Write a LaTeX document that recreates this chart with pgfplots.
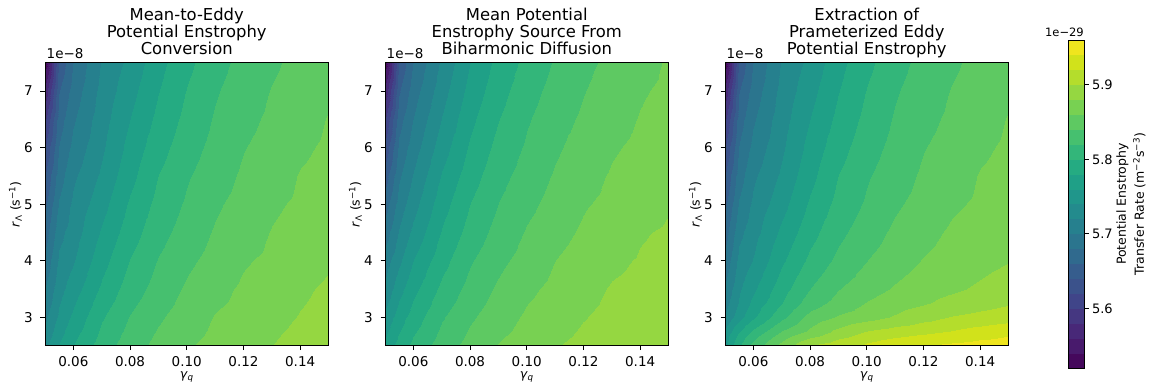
\documentclass[border=0pt]{standalone}
\usepackage{fontspec}
\setmainfont{DejaVu Sans}
\usepackage{pgfplots}
\pgfplotsset{compat=1.18}
\newcommand\tickfont{\fontsize{13.5bp}{16bp}\selectfont}
\newcommand\titlefont{\fontsize{16.4bp}{17.4bp}\selectfont}
\newcommand\labfont{\fontsize{12.5bp}{15bp}\selectfont}
\newcommand\cbtickfont{\fontsize{13bp}{15bp}\selectfont}
\newcommand\offfont{\fontsize{11.5bp}{14bp}\selectfont}
\newcommand\cbfont{\fontsize{12.5bp}{18bp}\selectfont}
\pgfplotsset{
 colormap={vir22}{rgb255=(69,8,92) rgb255=(72,26,108) rgb255=(72,40,120) rgb255=(69,55,129) rgb255=(64,69,137) rgb255=(59,82,139) rgb255=(54,93,141) rgb255=(48,106,142) rgb255=(43,117,142) rgb255=(38,128,142) rgb255=(35,139,141) rgb255=(32,150,139) rgb255=(31,160,135) rgb255=(37,171,130) rgb255=(51,182,122) rgb255=(70,192,111) rgb255=(94,201,98) rgb255=(120,209,82) rgb255=(149,215,65) rgb255=(180,221,44) rgb255=(209,226,27) rgb255=(239,229,30)},
 panel/.style={
  scale only axis, width=283.5bp, height=283bp, anchor=south west,
  clip mode=individual,
  xmin=0.05, xmax=0.15, ymin=2.5, ymax=7.5,
  xtick={0.06,0.08,0.10,0.12,0.14}, ytick={3,4,5,6,7},
  scaled ticks=false,
  tick pos=left, tick align=outside, major tick length=4.5bp,
  tick style={black, line width=0.8bp},
  axis line style={black, line width=0.8bp},
  /pgf/number format/assume math mode=true,
  xticklabel style={font=\tickfont, inner sep=1bp, yshift=-5.5bp, /pgf/number format/fixed, /pgf/number format/fixed zerofill, /pgf/number format/precision=2},
  yticklabel style={font=\tickfont, inner sep=1bp, xshift=-6.5bp},
  xlabel={\textit{γ}\textsubscript{\textit{q}}},
  ylabel={\textit{r}\textsubscript{Λ} (s\textsuperscript{−1})},
  every axis x label/.style={at={(axis description cs:0.5,0)}, anchor=center, yshift=-31.5bp, inner sep=1bp, font=\labfont},
  every axis y label/.style={at={(axis description cs:0,0.5)}, anchor=center, rotate=90, yshift=29.5bp, inner sep=1bp, font=\labfont},
  title style={at={(0.5,1)}, anchor=south, yshift=-2.3bp, inner sep=0pt, align=center, font=\titlefont},
  colormap name=vir22, colormap access=piecewise constant,
  point meta min=5.52, point meta max=5.96,
  axis on top,
 },
 field/.style={surf, shader=interp, mesh/cols=12, point meta=explicit},
}
\begin{document}
\begin{tikzpicture}
\path[use as bounding box] (0,0) rectangle (1154bp,385bp);

% ---------- Panel 1 ----------
\begin{axis}[panel, at={(45bp,39.3bp)}, title={Mean-to-Eddy\\Potential Enstrophy\\Conversion\rule[-4bp]{0pt}{0pt}}]
\addplot[field] coordinates {
(0.05,2.5)[5.735] (0.055,2.5)[5.761] (0.06,2.5)[5.780] (0.07,2.5)[5.810] (0.08,2.5)[5.831] (0.09,2.5)[5.846] (0.10,2.5)[5.858] (0.11,2.5)[5.866] (0.12,2.5)[5.873] (0.13,2.5)[5.880] (0.14,2.5)[5.887] (0.15,2.5)[5.894]
(0.05,3.0)[5.715] (0.055,3.0)[5.744] (0.06,3.0)[5.764] (0.07,3.0)[5.798] (0.08,3.0)[5.821] (0.09,3.0)[5.837] (0.10,3.0)[5.850] (0.11,3.0)[5.861] (0.12,3.0)[5.867] (0.13,3.0)[5.874] (0.14,3.0)[5.881] (0.15,3.0)[5.887]
(0.05,3.5)[5.700] (0.055,3.5)[5.733] (0.06,3.5)[5.750] (0.07,3.5)[5.784] (0.08,3.5)[5.810] (0.09,3.5)[5.828] (0.10,3.5)[5.843] (0.11,3.5)[5.854] (0.12,3.5)[5.863] (0.13,3.5)[5.869] (0.14,3.5)[5.8765] (0.15,3.5)[5.8835]
(0.05,4.0)[5.685] (0.055,4.0)[5.724] (0.06,4.0)[5.738] (0.07,4.0)[5.773] (0.08,4.0)[5.801] (0.09,4.0)[5.821] (0.10,4.0)[5.836] (0.11,4.0)[5.847] (0.12,4.0)[5.858] (0.13,4.0)[5.864] (0.14,4.0)[5.870] (0.15,4.0)[5.8775]
(0.05,4.5)[5.670] (0.055,4.5)[5.714] (0.06,4.5)[5.730] (0.07,4.5)[5.763] (0.08,4.5)[5.791] (0.09,4.5)[5.813] (0.10,4.5)[5.829] (0.11,4.5)[5.842] (0.12,4.5)[5.852] (0.13,4.5)[5.861] (0.14,4.5)[5.867] (0.15,4.5)[5.872]
(0.05,5.0)[5.655] (0.055,5.0)[5.702] (0.06,5.0)[5.724] (0.07,5.0)[5.753] (0.08,5.0)[5.783] (0.09,5.0)[5.806] (0.10,5.0)[5.823] (0.11,5.0)[5.837] (0.12,5.0)[5.847] (0.13,5.0)[5.857] (0.14,5.0)[5.863] (0.15,5.0)[5.869]
(0.05,5.5)[5.640] (0.055,5.5)[5.691] (0.06,5.5)[5.716] (0.07,5.5)[5.744] (0.08,5.5)[5.774] (0.09,5.5)[5.800] (0.10,5.5)[5.818] (0.11,5.5)[5.831] (0.12,5.5)[5.843] (0.13,5.5)[5.852] (0.14,5.5)[5.861] (0.15,5.5)[5.866]
(0.05,6.0)[5.620] (0.055,6.0)[5.681] (0.06,6.0)[5.706] (0.07,6.0)[5.737] (0.08,6.0)[5.767] (0.09,6.0)[5.792] (0.10,6.0)[5.812] (0.11,6.0)[5.826] (0.12,6.0)[5.839] (0.13,6.0)[5.848] (0.14,6.0)[5.857] (0.15,6.0)[5.863]
(0.05,6.5)[5.595] (0.055,6.5)[5.670] (0.06,6.5)[5.697] (0.07,6.5)[5.732] (0.08,6.5)[5.760] (0.09,6.5)[5.785] (0.10,6.5)[5.806] (0.11,6.5)[5.822] (0.12,6.5)[5.834] (0.13,6.5)[5.844] (0.14,6.5)[5.853] (0.15,6.5)[5.861]
(0.05,7.0)[5.565] (0.055,7.0)[5.659] (0.06,7.0)[5.688] (0.07,7.0)[5.727] (0.08,7.0)[5.753] (0.09,7.0)[5.779] (0.10,7.0)[5.801] (0.11,7.0)[5.818] (0.12,7.0)[5.830] (0.13,7.0)[5.841] (0.14,7.0)[5.849] (0.15,7.0)[5.858]
(0.05,7.5)[5.525] (0.055,7.5)[5.644] (0.06,7.5)[5.680] (0.07,7.5)[5.722] (0.08,7.5)[5.746] (0.09,7.5)[5.773] (0.10,7.5)[5.795] (0.11,7.5)[5.813] (0.12,7.5)[5.826] (0.13,7.5)[5.837] (0.14,7.5)[5.846] (0.15,7.5)[5.854]
};
\node[anchor=base west, font=\tickfont, inner sep=0pt, xshift=1.5bp, yshift=4.4bp] at (rel axis cs:0,1) {1e−8};
\end{axis}

% ---------- Panel 2 ----------
\begin{axis}[panel, at={(385bp,39.3bp)}, title={Mean Potential\\Enstrophy Source From\\Biharmonic Diffusion\rule[-4bp]{0pt}{0pt}}]
\addplot[field] coordinates {
(0.05,2.5)[5.765] (0.055,2.5)[5.788] (0.06,2.5)[5.805] (0.07,2.5)[5.830] (0.08,2.5)[5.847] (0.09,2.5)[5.861] (0.10,2.5)[5.870] (0.11,2.5)[5.879] (0.12,2.5)[5.885] (0.13,2.5)[5.889] (0.14,2.5)[5.893] (0.15,2.5)[5.896]
(0.05,3.0)[5.745] (0.055,3.0)[5.770] (0.06,3.0)[5.789] (0.07,3.0)[5.818] (0.08,3.0)[5.837] (0.09,3.0)[5.851] (0.10,3.0)[5.863] (0.11,3.0)[5.871] (0.12,3.0)[5.879] (0.13,3.0)[5.885] (0.14,3.0)[5.889] (0.15,3.0)[5.892]
(0.05,3.5)[5.725] (0.055,3.5)[5.753] (0.06,3.5)[5.774] (0.07,3.5)[5.805] (0.08,3.5)[5.827] (0.09,3.5)[5.843] (0.10,3.5)[5.856] (0.11,3.5)[5.865] (0.12,3.5)[5.874] (0.13,3.5)[5.8815] (0.14,3.5)[5.885] (0.15,3.5)[5.888]
(0.05,4.0)[5.710] (0.055,4.0)[5.736] (0.06,4.0)[5.760] (0.07,4.0)[5.793] (0.08,4.0)[5.818] (0.09,4.0)[5.835] (0.10,4.0)[5.848] (0.11,4.0)[5.860] (0.12,4.0)[5.869] (0.13,4.0)[5.8765] (0.14,4.0)[5.8815] (0.15,4.0)[5.885]
(0.05,4.5)[5.690] (0.055,4.5)[5.722] (0.06,4.5)[5.745] (0.07,4.5)[5.782] (0.08,4.5)[5.808] (0.09,4.5)[5.827] (0.10,4.5)[5.842] (0.11,4.5)[5.853] (0.12,4.5)[5.863] (0.13,4.5)[5.871] (0.14,4.5)[5.8785] (0.15,4.5)[5.8825]
(0.05,5.0)[5.670] (0.055,5.0)[5.709] (0.06,5.0)[5.732] (0.07,5.0)[5.772] (0.08,5.0)[5.800] (0.09,5.0)[5.820] (0.10,5.0)[5.835] (0.11,5.0)[5.847] (0.12,5.0)[5.858] (0.13,5.0)[5.865] (0.14,5.0)[5.872] (0.15,5.0)[5.8785]
(0.05,5.5)[5.650] (0.055,5.5)[5.697] (0.06,5.5)[5.721] (0.07,5.5)[5.762] (0.08,5.5)[5.791] (0.09,5.5)[5.813] (0.10,5.5)[5.829] (0.11,5.5)[5.842] (0.12,5.5)[5.853] (0.13,5.5)[5.862] (0.14,5.5)[5.868] (0.15,5.5)[5.874]
(0.05,6.0)[5.625] (0.055,6.0)[5.685] (0.06,6.0)[5.710] (0.07,6.0)[5.751] (0.08,6.0)[5.783] (0.09,6.0)[5.806] (0.10,6.0)[5.823] (0.11,6.0)[5.837] (0.12,6.0)[5.848] (0.13,6.0)[5.858] (0.14,6.0)[5.864] (0.15,6.0)[5.870]
(0.05,6.5)[5.598] (0.055,6.5)[5.672] (0.06,6.5)[5.700] (0.07,6.5)[5.741] (0.08,6.5)[5.775] (0.09,6.5)[5.799] (0.10,6.5)[5.818] (0.11,6.5)[5.832] (0.12,6.5)[5.843] (0.13,6.5)[5.853] (0.14,6.5)[5.861] (0.15,6.5)[5.867]
(0.05,7.0)[5.565] (0.055,7.0)[5.658] (0.06,7.0)[5.690] (0.07,7.0)[5.732] (0.08,7.0)[5.767] (0.09,7.0)[5.792] (0.10,7.0)[5.812] (0.11,7.0)[5.827] (0.12,7.0)[5.839] (0.13,7.0)[5.849] (0.14,7.0)[5.858] (0.15,7.0)[5.864]
(0.05,7.5)[5.525] (0.055,7.5)[5.642] (0.06,7.5)[5.680] (0.07,7.5)[5.724] (0.08,7.5)[5.760] (0.09,7.5)[5.786] (0.10,7.5)[5.806] (0.11,7.5)[5.822] (0.12,7.5)[5.835] (0.13,7.5)[5.845] (0.14,7.5)[5.854] (0.15,7.5)[5.862]
};
\node[anchor=base west, font=\tickfont, inner sep=0pt, xshift=1.5bp, yshift=4.4bp] at (rel axis cs:0,1) {1e−8};
\end{axis}

% ---------- Panel 3 ----------
\begin{axis}[panel, at={(725bp,39.3bp)}, title={Extraction of\\Prameterized Eddy\\Potential Enstrophy\rule[-4bp]{0pt}{0pt}}]
\addplot[field] coordinates {
(0.05,2.5)[5.755] (0.055,2.5)[5.798] (0.06,2.5)[5.827] (0.07,2.5)[5.869] (0.08,2.5)[5.901] (0.09,2.5)[5.914] (0.10,2.5)[5.925] (0.11,2.5)[5.935] (0.12,2.5)[5.941] (0.13,2.5)[5.945] (0.14,2.5)[5.949] (0.15,2.5)[5.952]
(0.05,2.75)[5.745] (0.055,2.75)[5.780] (0.06,2.75)[5.805] (0.07,2.75)[5.842] (0.08,2.75)[5.865] (0.09,2.75)[5.886] (0.10,2.75)[5.902] (0.11,2.75)[5.910] (0.12,2.75)[5.916] (0.13,2.75)[5.922] (0.14,2.75)[5.929] (0.15,2.75)[5.935]
(0.05,3.0)[5.722] (0.055,3.0)[5.752] (0.06,3.0)[5.776] (0.07,3.0)[5.815] (0.08,3.0)[5.847] (0.09,3.0)[5.862] (0.10,3.0)[5.872] (0.11,3.0)[5.882] (0.12,3.0)[5.892] (0.13,3.0)[5.901] (0.14,3.0)[5.906] (0.15,3.0)[5.911]
(0.05,3.25)[5.712] (0.055,3.25)[5.742] (0.06,3.25)[5.765] (0.07,3.25)[5.800] (0.08,3.25)[5.830] (0.09,3.25)[5.847] (0.10,3.25)[5.861] (0.11,3.25)[5.871] (0.12,3.25)[5.878] (0.13,3.25)[5.886] (0.14,3.25)[5.892] (0.15,3.25)[5.898]
(0.05,3.5)[5.703] (0.055,3.5)[5.737] (0.06,3.5)[5.756] (0.07,3.5)[5.792] (0.08,3.5)[5.820] (0.09,3.5)[5.839] (0.10,3.5)[5.852] (0.11,3.5)[5.862] (0.12,3.5)[5.871] (0.13,3.5)[5.877] (0.14,3.5)[5.883] (0.15,3.5)[5.889]
(0.05,4.0)[5.686] (0.055,4.0)[5.726] (0.06,4.0)[5.741] (0.07,4.0)[5.777] (0.08,4.0)[5.805] (0.09,4.0)[5.825] (0.10,4.0)[5.840] (0.11,4.0)[5.851] (0.12,4.0)[5.861] (0.13,4.0)[5.868] (0.14,4.0)[5.874] (0.15,4.0)[5.8795]
(0.05,4.5)[5.671] (0.055,4.5)[5.715] (0.06,4.5)[5.732] (0.07,4.5)[5.765] (0.08,4.5)[5.793] (0.09,4.5)[5.815] (0.10,4.5)[5.831] (0.11,4.5)[5.844] (0.12,4.5)[5.854] (0.13,4.5)[5.863] (0.14,4.5)[5.869] (0.15,4.5)[5.875]
(0.05,5.0)[5.655] (0.055,5.0)[5.702] (0.06,5.0)[5.724] (0.07,5.0)[5.753] (0.08,5.0)[5.783] (0.09,5.0)[5.806] (0.10,5.0)[5.823] (0.11,5.0)[5.837] (0.12,5.0)[5.847] (0.13,5.0)[5.857] (0.14,5.0)[5.863] (0.15,5.0)[5.869]
(0.05,5.5)[5.640] (0.055,5.5)[5.691] (0.06,5.5)[5.716] (0.07,5.5)[5.744] (0.08,5.5)[5.774] (0.09,5.5)[5.800] (0.10,5.5)[5.818] (0.11,5.5)[5.831] (0.12,5.5)[5.843] (0.13,5.5)[5.852] (0.14,5.5)[5.861] (0.15,5.5)[5.866]
(0.05,6.0)[5.620] (0.055,6.0)[5.681] (0.06,6.0)[5.706] (0.07,6.0)[5.737] (0.08,6.0)[5.767] (0.09,6.0)[5.792] (0.10,6.0)[5.812] (0.11,6.0)[5.826] (0.12,6.0)[5.839] (0.13,6.0)[5.848] (0.14,6.0)[5.857] (0.15,6.0)[5.863]
(0.05,6.5)[5.595] (0.055,6.5)[5.670] (0.06,6.5)[5.697] (0.07,6.5)[5.732] (0.08,6.5)[5.760] (0.09,6.5)[5.785] (0.10,6.5)[5.806] (0.11,6.5)[5.822] (0.12,6.5)[5.834] (0.13,6.5)[5.844] (0.14,6.5)[5.853] (0.15,6.5)[5.861]
(0.05,7.0)[5.565] (0.055,7.0)[5.659] (0.06,7.0)[5.688] (0.07,7.0)[5.727] (0.08,7.0)[5.753] (0.09,7.0)[5.779] (0.10,7.0)[5.801] (0.11,7.0)[5.818] (0.12,7.0)[5.830] (0.13,7.0)[5.841] (0.14,7.0)[5.849] (0.15,7.0)[5.858]
(0.05,7.5)[5.525] (0.055,7.5)[5.644] (0.06,7.5)[5.680] (0.07,7.5)[5.722] (0.08,7.5)[5.746] (0.09,7.5)[5.773] (0.10,7.5)[5.795] (0.11,7.5)[5.813] (0.12,7.5)[5.826] (0.13,7.5)[5.837] (0.14,7.5)[5.846] (0.15,7.5)[5.854]
};
\node[anchor=base west, font=\tickfont, inner sep=0pt, xshift=1.5bp, yshift=4.4bp] at (rel axis cs:0,1) {1e−8};
\end{axis}

% ---------- Colorbar ----------
\begin{axis}[at={(1068bp,17bp)}, anchor=south west, scale only axis, width=16bp, height=328bp,
 clip mode=individual,
 xmin=0, xmax=1, ymin=5.52, ymax=5.96, xtick=\empty, ytick={5.6,5.7,5.8,5.9},
 ytick pos=right, yticklabel pos=right, tick align=outside, major tick length=4.5bp,
 tick style={black, line width=0.8bp}, axis line style={black, line width=0.8bp},
 scaled ticks=false,
 /pgf/number format/assume math mode=true,
 yticklabel style={font=\cbtickfont, /pgf/number format/fixed, /pgf/number format/fixed zerofill, /pgf/number format/precision=1},
 colormap name=vir22, colormap access=piecewise constant,
 point meta min=5.52, point meta max=5.96, axis on top]
\addplot[surf, shader=interp, mesh/cols=2, point meta=explicit] coordinates {
(0,5.52)[5.52] (1,5.52)[5.52]
(0,5.96)[5.96] (1,5.96)[5.96]
};
\node[anchor=base east, font=\offfont, inner sep=0pt, yshift=3.5bp] at (rel axis cs:1,1) {1e−29};
\node[rotate=90, align=center, font=\cbfont, inner sep=0pt, yshift=-47bp] at (rel axis cs:1,0.5) {Potential Enstrophy\\Transfer Rate (m\textsuperscript{−2}s\textsuperscript{−3})};
\end{axis}
\end{tikzpicture}
\end{document}
